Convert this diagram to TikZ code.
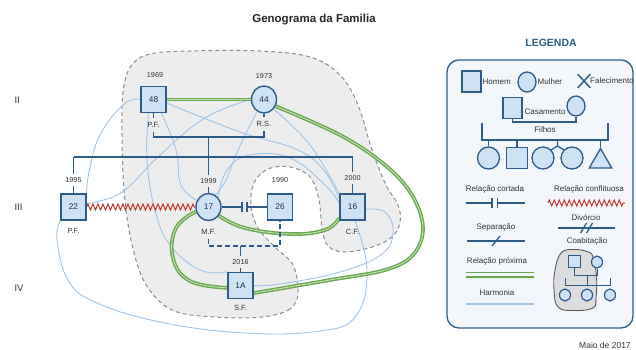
\documentclass[tikz,border=0pt]{standalone}
\usepackage{fontspec}
\setmainfont{Liberation Sans}
\usetikzlibrary{decorations.pathmorphing,shapes.geometric,shapes.misc}

\definecolor{struct}{HTML}{2E5C8A}
\definecolor{nodefill}{HTML}{CFE2F3}
\definecolor{harm}{HTML}{9FC5E8}
\definecolor{closeg}{HTML}{6AA84F}
\definecolor{closein}{HTML}{C5E0B4}
\definecolor{conflict}{HTML}{C0392B}
\definecolor{house}{HTML}{EDEDED}
\definecolor{houseline}{HTML}{8C8C8C}
\definecolor{legfill}{HTML}{F3F7FC}
\definecolor{txt}{HTML}{333333}
\definecolor{cohab}{HTML}{DCDCDC}

\pgfdeclarelayer{back}
\pgfdeclarelayer{mid}
\pgfsetlayers{back,mid,main}

\tikzset{
  fs/.style={font=\fontsize{#1}{#1}\selectfont},
  male/.style={rectangle, draw=struct, fill=nodefill, line width=1.4pt,
    minimum width=25pt, minimum height=26pt, inner sep=0pt, fs=8.3, text=struct!50!black},
  female/.style={ellipse, draw=struct, fill=nodefill, line width=1.4pt,
    minimum width=25pt, minimum height=27pt, inner sep=0pt, fs=8.3, text=struct!50!black},
  yearlbl/.style={fs=7.2, text=txt, inner xsep=1pt, inner ysep=3.5pt},
  namelbl/.style={fs=7.5, text=txt, inner xsep=1pt, inner ysep=4pt},
  genlbl/.style={fs=9.5, text=txt, anchor=west},
  tie/.style={draw=struct, line width=1.3pt},
  parentdash/.style={tie, dash pattern=on 5pt off 3pt},
  harmony/.style={draw=harm, line width=0.9pt},
  closerel/.style={draw=closeg, line width=1.4pt, double=closein, double distance=0.9pt},
  conflictrel/.style={draw=conflict, line width=1pt, decorate,
    decoration={zigzag, segment length=5pt, amplitude=3pt}},
  household/.style={fill=house, draw=houseline, line width=1pt, dash pattern=on 4pt off 3pt},
  legtxt/.style={fs=8, text=txt, inner sep=1pt},
  lmale/.style={rectangle, draw=struct, fill=nodefill, line width=1.3pt,
    minimum width=19pt, minimum height=21pt, inner sep=0pt},
  lfemale/.style={ellipse, draw=struct, fill=nodefill, line width=1.3pt,
    minimum width=18pt, minimum height=20pt, inner sep=0pt},
  lchild/.style={ellipse, draw=struct, fill=nodefill, line width=1.3pt,
    minimum width=22pt, minimum height=22pt, inner sep=0pt},
}

\begin{document}
\begin{tikzpicture}[x=1pt,y=-1pt]
\useasboundingbox (0,0) rectangle (636,350);

% ---------- title and generation marks ----------
\node[font=\bfseries\fontsize{11.5}{12}\selectfont, text=black!85] (title) at (314,20) {Genograma da Familia};
\node[genlbl] (g2) at (11,100) {II};
\node[genlbl] (g3) at (11,207) {III};
\node[genlbl] (g4) at (11,288) {IV};

% ---------- people ----------
\node[male]   (n48) at (153.5,99.5) {48};
\node[female] (n44) at (264,99.5) {44};
\node[male]   (n22) at (73.5,207) {22};
\node[female] (n17) at (208.5,207) {17};
\node[male]   (n26) at (280,207) {26};
\node[male]   (n16) at (352.5,207) {16};
\node[male]   (n1A) at (240.5,285.5) {1A};

\node[yearlbl] (y48) at (155,75) {1969};
\node[yearlbl] (y44) at (264,76) {1973};
\node[namelbl] (l48) at (153.5,125) {P.F.};
\node[namelbl] (l44) at (264,124) {R.S.};
\node[yearlbl] (y22) at (73.5,180) {1995};
\node[yearlbl] (y17) at (208.5,181) {1999};
\node[yearlbl] (y26) at (280,180) {1990};
\node[yearlbl] (y16) at (352.5,178) {2000};
\node[namelbl] (l22) at (73.5,231) {P.F.};
\node[namelbl] (l17) at (208.5,232) {M.F.};
\node[namelbl] (l16) at (352.5,232) {C.F.};
\node[yearlbl] (y1A) at (240.5,262) {2016};
\node[namelbl] (l1A) at (240.5,308) {S.F.};

% ---------- household boundary ----------
\begin{pgfonlayer}{back}
\path[household] plot[smooth cycle, tension=0.6] coordinates {
  (298,292) (290,309) (262,317) (215,317) (172,310) (145,283) (131,240)
  (124,190) (122,135) (123,92) (131,66) (150,54) (190,51) (260,51)
  (310,57) (340,75) (358,105) (372,150) (386,185) (398,205) (400,222)
  (392,237) (372,247) (345,252) (328,246) (322,228) (319,200) (310,177)
  (290,167) (268,169) (254,183) (251,205) (258,228) (276,248) (293,265)};
\end{pgfonlayer}

\begin{pgfonlayer}{mid}
% harmony relations
\draw[harmony] plot[smooth, tension=0.7] coordinates {(n48.west) (124,104) (100,135) (89,172) (n22.north east)};
\draw[harmony] plot[smooth, tension=0.7] coordinates {(n22.south west) (57,240) (68,280) (95,302) (160,322) (245,333) (320,331) (356,316) (367,270) (n16.-80)};
\draw[harmony] plot[smooth, tension=0.7] coordinates {(n48.-110) (147,160) (155,210) (170,245) (200,270) (n1A.north west)};
\draw[harmony] plot[smooth, tension=0.7] coordinates {(n48.-60) (176,150) (181,185) (n17.150)};
\draw[harmony] plot[smooth, tension=0.7] coordinates {(n48.-15) (240,132) (298,150) (325,172) (n16.150)};
\draw[harmony] plot[smooth, tension=0.7] coordinates {(n44.west) (205,118) (160,155) (125,190) (100,201) (n22.15)};
\draw[harmony] plot[smooth, tension=0.7] coordinates {(n44.-120) (238,150) (226,180) (n17.60)};
\draw[harmony] plot[smooth, tension=0.7] coordinates {(n44.-45) (310,145) (n16.135)};
\draw[harmony] plot[smooth, tension=0.7] coordinates {(n16.-10) (385,212) (393,232) (382,254) (340,272) (280,284) (n1A.east)};
\draw[harmony] plot[smooth, tension=0.7] coordinates {(n17.45) (227,170) (250,155) (290,158) (325,185) (n16.165)};

% close relations
\draw[closerel] (n48.east) -- (n44.west);
\draw[closerel] plot[smooth, tension=0.6] coordinates {(n44.-30) (340,135) (385,165) (412,195) (423,228) (413,255) (385,270) (330,280) (n1A.-30)};
\draw[closerel] plot[smooth, tension=0.7] coordinates {(n17.-40) (245,228) (290,234) (325,230) (n16.-140)};
\draw[closerel] plot[smooth, tension=0.7] coordinates {(n17.200) (176,228) (173,258) (190,281) (n1A.190)};

% conflict
\draw[conflictrel] (n22.east) -- (n17.west);

% couple and children lines
\coordinate (mL) at (153.5,137);
\coordinate (mR) at (264,137);
\coordinate (mC) at (208.5,137);
\coordinate (cC) at (208.5,157);
\coordinate (cL) at (73.5,157);
\coordinate (cR) at (352.5,157);
\draw[tie] (n48.south) -- (l48.north);
\draw[tie] (n44.south) -- (l44.north);
\draw[tie] (l48.south) -- (mL) -- (mR) -- (l44.south);
\draw[tie] (mC) -- (cC);
\draw[tie] (cL) -- (cR);
\draw[tie] (cL) -- (y22.north);
\draw[tie] (y22.south) -- (n22.north);
\draw[tie] (cC) -- (y17.north);
\draw[tie] (y17.south) -- (n17.north);
\draw[tie] (cR) -- (y16.north);
\draw[tie] (y16.south) -- (n16.north);

% cut-off relation 17 - 26
\coordinate (cut1) at (242,207);
\coordinate (cut2) at (247,207);
\draw[tie] (n17.east) -- (cut1);
\draw[tie] (cut2) -- (n26.west);
\draw[tie] (cut1) ++(0,-5) -- ++(0,10);
\draw[tie] (cut2) ++(0,-5) -- ++(0,10);

% unmarried parents of 1A
\coordinate (dL) at (208.5,246);
\coordinate (dR) at (280,246);
\coordinate (dC) at (240.5,246);
\draw[parentdash] (l17.south) -- (dL) -- (dR) -- (n26.south);
\draw[tie] (dC) -- (y1A.north);
\draw[tie] (y1A.south) -- (n1A.north);
\end{pgfonlayer}

% ---------- legend ----------
\node[draw=struct, fill=legfill, line width=1.3pt, rounded corners=12pt,
      minimum width=186pt, minimum height=268pt] (legbox) at (540,194) {};
\node[font=\bfseries\fontsize{10.5}{11}\selectfont, text=struct] (legt) at (551,43) {LEGENDA};

\node[lmale] (lm) at (471.5,81.5) {};
\node[legtxt, anchor=west] (tm) at (481.5,81.5) {Homem};
\node[lfemale] (lf) at (527,82) {};
\node[legtxt, anchor=west] (tf) at (536.5,82) {Mulher};
\node[cross out, draw=struct, line width=1.5pt, minimum width=11pt, minimum height=12pt, inner sep=0pt] (lx) at (584,81) {};
\node[legtxt, anchor=west] (tx) at (589,81) {Falecimento};

\node[lmale] (lcm) at (512.5,108) {};
\node[lfemale] (lcf) at (576,106) {};
\node[legtxt] (tc) at (545,112) {Casamento};
\coordinate (ca) at (512.5,122);
\coordinate (cb) at (576,122);
\draw[tie] (lcm.south) -- (ca) -- (cb) -- (lcf.south);

\node[legtxt] (tfi) at (545,130) {Filhos};
\coordinate (fa) at (482,123);
\coordinate (fl) at (482,140);
\coordinate (fr) at (608,140);
\coordinate (fb) at (608,123);
\draw[tie] (fa) -- (fl) -- (fr) -- (fb);

\node[lchild] (lc1) at (488.5,158) {};
\node[lmale, minimum width=21pt, minimum height=21pt] (lc2) at (517,158) {};
\node[lchild] (lc3) at (543,158) {};
\node[lchild] (lc4) at (572,158) {};
\node[regular polygon, regular polygon sides=3, draw=struct, fill=nodefill,
      line width=1.3pt, minimum size=26pt, inner sep=0pt] (lc5) at (600.5,161.5) {};
\coordinate (k1) at (488.5,140);
\coordinate (k2) at (517,140);
\coordinate (k3) at (557.5,140);
\coordinate (k3b) at (557.5,146);
\coordinate (k5) at (600.5,140);
\draw[tie] (k1) -- (lc1.north);
\draw[tie] (k2) -- (lc2.north);
\draw[tie] (k3) -- (k3b) -- (lc3.45);
\draw[tie] (k3b) -- (lc4.135);
\draw[tie] (k5) -- (lc5.corner 1);

% relation samples
\node[legtxt] (tcut) at (495,189) {Relação cortada};
\coordinate (ca1) at (466,203);
\coordinate (ca2) at (492,203);
\coordinate (ca3) at (497.5,203);
\coordinate (ca4) at (525,203);
\draw[tie] (ca1) -- (ca2);
\draw[tie] (ca3) -- (ca4);
\draw[tie] (ca2) ++(0,-5) -- ++(0,10);
\draw[tie] (ca3) ++(0,-5) -- ++(0,10);

\node[legtxt] (tcon) at (589,189) {Relação conflituosa};
\coordinate (cz1) at (548,203);
\coordinate (cz2) at (625,203);
\draw[conflictrel] (cz1) -- (cz2);

\node[legtxt] (tdiv) at (586,218) {Divórcio};
\coordinate (dv1) at (558,228);
\coordinate (dv2) at (615,228);
\draw[tie] (dv1) -- (dv2);
\draw[tie] (580.5,233) -- (586.5,223);
\draw[tie] (586.5,233) -- (592.5,223);

\node[legtxt] (tsep) at (496,227) {Separação};
\coordinate (sp1) at (467,241);
\coordinate (sp2) at (525,241);
\draw[tie] (sp1) -- (sp2);
\draw[tie] (492,246) -- (500,236);

\node[legtxt] (tcl) at (497,261) {Relação próxima};
\coordinate (pr1) at (466,274.5);
\coordinate (pr2) at (534,274.5);
\draw[draw=closeg, line width=1.7pt, double=legfill, double distance=2.6pt] (pr1) -- (pr2);

\node[legtxt] (thm) at (497,293) {Harmonia};
\coordinate (hm1) at (466,304);
\coordinate (hm2) at (534,304);
\draw[harmony, line width=1.1pt] (hm1) -- (hm2);

% cohabitation sample
\node[legtxt] (tcoh) at (587,241) {Coabitação};
\draw[draw=black!65, fill=cohab, line width=0.9pt] plot[smooth cycle, tension=0.7] coordinates {
  (561,253) (573,249.5) (587,251.5) (593,257) (596.5,277) (596,297)
  (593,308) (573,310.5) (558,307) (554,290) (555,270)};
\node[lmale, minimum width=12pt, minimum height=12pt, line width=1.2pt] (cs) at (574.5,261.5) {};
\node[lfemale, minimum width=11pt, minimum height=12pt, line width=1.2pt] (cf) at (597,262) {};
\node[lfemale, minimum width=11pt, minimum height=12pt, line width=1.2pt] (ck1) at (565,295) {};
\node[lfemale, minimum width=11pt, minimum height=12pt, line width=1.2pt] (ck2) at (587,295) {};
\node[lfemale, minimum width=11pt, minimum height=12pt, line width=1.2pt] (ck3) at (610,295) {};
\coordinate (cp1) at (574.5,275);
\coordinate (cp2) at (597,275);
\coordinate (cm1) at (587,275);
\coordinate (cm2) at (587,285);
\coordinate (cb1) at (565,278);
\coordinate (cb2) at (565,285);
\coordinate (cb3) at (610,285);
\coordinate (cb4) at (610,278);
\draw[tie, line width=1pt] (cs.south) -- (cp1) -- (cp2) -- (cf.south);
\draw[tie, line width=1pt] (cm1) -- (cm2);
\draw[tie, line width=1pt] (cb1) -- (cb2) -- (cb3) -- (cb4);

\node[legtxt, anchor=west, fs=8.5] (date) at (578,345) {Maio de 2017};
\end{tikzpicture}
\end{document}
